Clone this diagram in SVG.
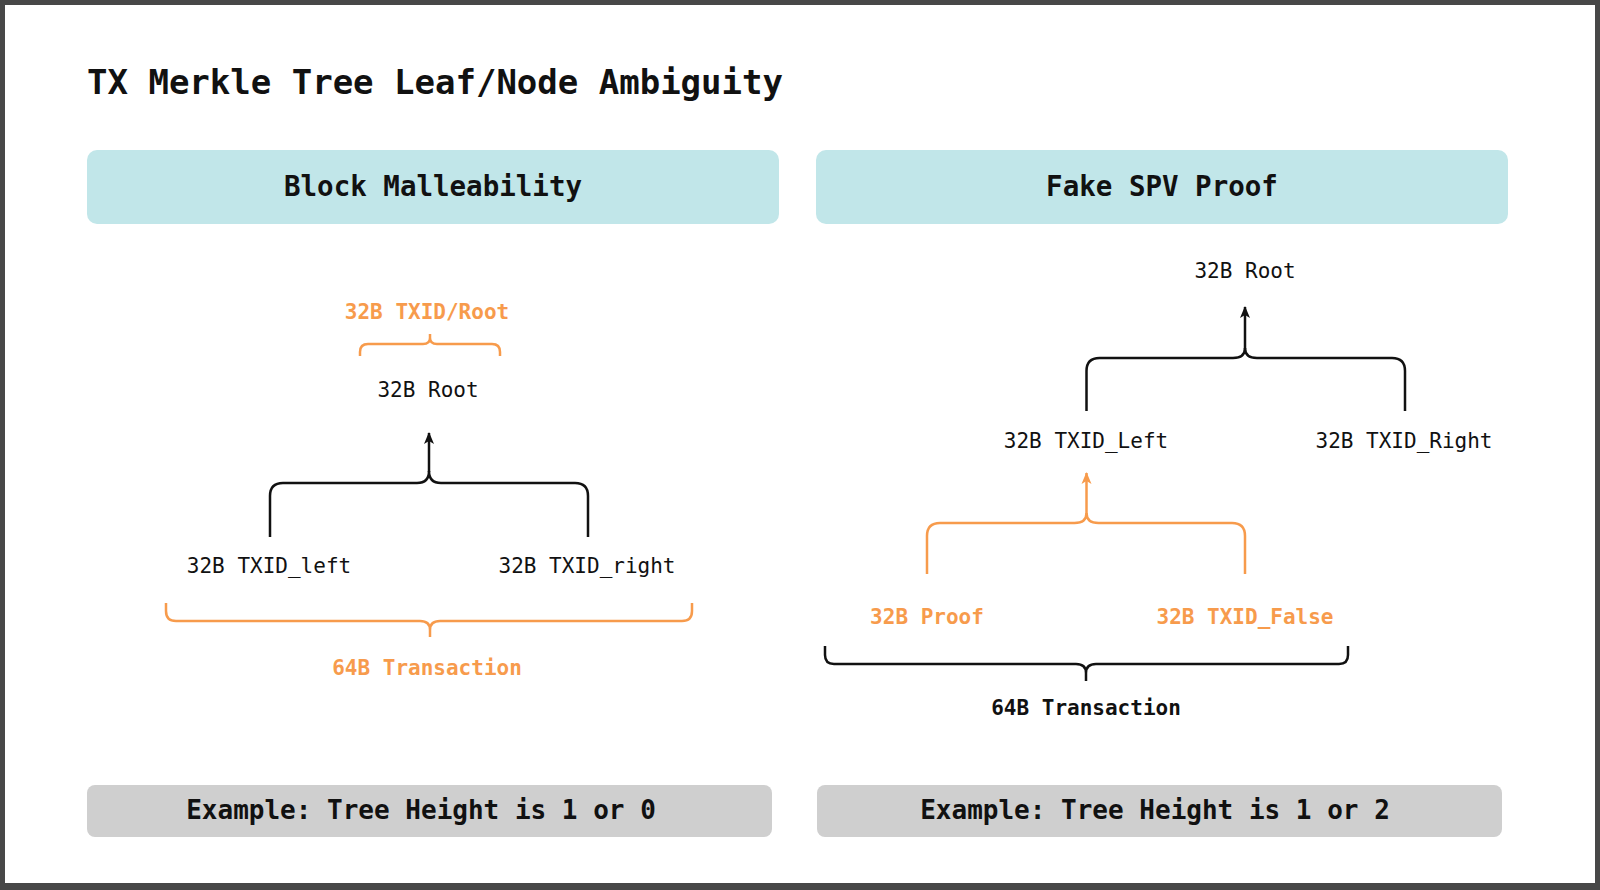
<svg xmlns="http://www.w3.org/2000/svg" width="1600" height="890" viewBox="0 0 1600 890">
<defs>
<style>
.t{font-family:"DejaVu Sans Mono","Liberation Mono",monospace;}
.b{font-weight:bold;}
.blk{fill:#111;}
.org{fill:#f79b4c;}
.ls{fill:none;stroke:#111;stroke-width:2.5;stroke-linecap:butt;stroke-linejoin:round;}
.lo{fill:none;stroke:#f79b4c;stroke-width:2.5;stroke-linecap:butt;stroke-linejoin:round;}
.hdr{fill:#c1e6e9;}
.ftr{fill:#cfcfcf;}
</style>
<marker id="ab" markerUnits="userSpaceOnUse" markerWidth="12" markerHeight="12" viewBox="0 0 12 12" refX="11" refY="6" orient="auto">
<path d="M0,1 L12,6 L0,11 L3,6 z" fill="#111"/>
</marker>
<marker id="ao" markerUnits="userSpaceOnUse" markerWidth="12" markerHeight="12" viewBox="0 0 12 12" refX="11" refY="6" orient="auto">
<path d="M0,1 L12,6 L0,11 L3,6 z" fill="#f79b4c"/>
</marker>
</defs>
<rect x="0" y="0" width="1600" height="890" fill="#484848"/>
<rect x="5" y="5" width="1590" height="878" fill="#ffffff"/>

<text class="t b blk" x="87" y="94" font-size="34">TX Merkle Tree Leaf/Node Ambiguity</text>

<g id="hdr-left">
<rect class="hdr" x="87" y="150" width="692" height="74" rx="10"/>
<text class="t b blk" x="433" y="196" font-size="27.5" text-anchor="middle">Block Malleability</text>
</g>
<g id="hdr-right">
<rect class="hdr" x="816" y="150" width="692" height="74" rx="10"/>
<text class="t b blk" x="1162" y="196" font-size="27.5" text-anchor="middle">Fake SPV Proof</text>
</g>

<g id="left-txid-root"><text class="t b org" x="427" y="319" font-size="21" text-anchor="middle">32B TXID/Root</text></g>
<g id="left-root"><text class="t blk" x="428" y="397" font-size="21" text-anchor="middle">32B Root</text></g>
<g id="left-txid-left"><text class="t blk" x="269" y="573" font-size="21" text-anchor="middle">32B TXID_left</text></g>
<g id="left-txid-right"><text class="t blk" x="587" y="573" font-size="21" text-anchor="middle">32B TXID_right</text></g>
<g id="left-tx"><text class="t b org" x="427" y="675" font-size="21" text-anchor="middle">64B Transaction</text></g>

<g id="right-root"><text class="t blk" x="1245" y="278" font-size="21" text-anchor="middle">32B Root</text></g>
<g id="right-txid-left"><text class="t blk" x="1086" y="448" font-size="21" text-anchor="middle">32B TXID_Left</text></g>
<g id="right-txid-right"><text class="t blk" x="1404" y="448" font-size="21" text-anchor="middle">32B TXID_Right</text></g>
<g id="right-proof"><text class="t b org" x="927" y="624" font-size="21" text-anchor="middle">32B Proof</text></g>
<g id="right-txid-false"><text class="t b org" x="1245" y="624" font-size="21" text-anchor="middle">32B TXID_False</text></g>
<g id="right-tx"><text class="t b blk" x="1086" y="715" font-size="21" text-anchor="middle">64B Transaction</text></g>

<g id="connectors">
<path class="lo" d="M360,356 V352 Q360,344 368,344 H423 Q430,344 430,338 V334 M500,356 V352 Q500,344 492,344 H437 Q430,344 430,338"/>
<path class="ls" d="M270,537 V496 Q270,483 283,483 H417 Q429,483 429,471 M588,537 V496 Q588,483 575,483 H441 Q429,483 429,471"/>
<path class="ls" d="M429,472 V433" marker-end="url(#ab)"/>
<path class="lo" d="M166,603 V611 Q166,621 176,621 H420 Q430,621 430,630 V637 M692,603 V611 Q692,621 682,621 H440 Q430,621 430,630"/>
<path class="ls" d="M1086.5,411 V371 Q1086.5,358 1099.5,358 H1233 Q1245,358 1245,348 M1405,411 V371 Q1405,358 1392,358 H1257 Q1245,358 1245,348"/>
<path class="ls" d="M1245,349 V307" marker-end="url(#ab)"/>
<path class="lo" d="M927,574 V536 Q927,523 940,523 H1074.5 Q1086.5,523 1086.5,513 M1245,574 V536 Q1245,523 1232,523 H1098.5 Q1086.5,523 1086.5,513"/>
<path class="lo" d="M1086.5,514 V473" marker-end="url(#ao)"/>
<path class="ls" d="M825,646 V655 Q825,664 834,664 H1076 Q1086,664 1086,673 V681 M1348,646 V655 Q1348,664 1339,664 H1096 Q1086,664 1086,673"/>
</g>

<g id="ftr-left">
<rect class="ftr" x="87" y="785" width="685" height="52" rx="8"/>
<text class="t b blk" x="421" y="819" font-size="26" text-anchor="middle">Example: Tree Height is 1 or 0</text>
</g>
<g id="ftr-right">
<rect class="ftr" x="817" y="785" width="685" height="52" rx="8"/>
<text class="t b blk" x="1155" y="819" font-size="26" text-anchor="middle">Example: Tree Height is 1 or 2</text>
</g>
</svg>
